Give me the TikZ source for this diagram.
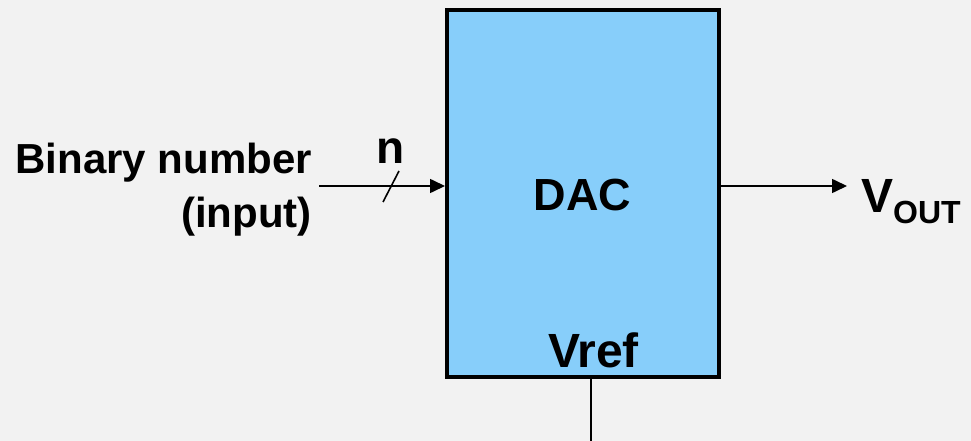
\documentclass[tikz,border=0pt]{standalone}
\usepackage{fontspec}
\setmainfont{Liberation Sans}
\usetikzlibrary{arrows.meta}

\definecolor{dacblue}{RGB}{135,206,250}
\definecolor{bggray}{RGB}{242,242,242}

\tikzset{
    block/.style={draw, fill=dacblue, line width=4pt, minimum width=272pt, minimum height=367pt, inner sep=0pt},
    wire/.style={line width=1.6pt},
    sig/.style={wire, -{Triangle[length=15pt, width=14pt]}},
    lbl/.style={inner sep=0pt, font=\bfseries\fontsize{42}{54}\selectfont}
}

\begin{document}
\begin{tikzpicture}[x=1pt, y=-1pt]
    \path[use as bounding box, fill=bggray] (0,0) rectangle (971,441);

    \node[block] at (583, 193.5) (dac) {};
    \node[lbl, font=\bfseries\fontsize{45}{45}\selectfont] at (582.5, 195) {DAC};
    \node[lbl, font=\bfseries\fontsize{48}{48}\selectfont, anchor=base] at (593.5, 367) (vref) {Vref};

    \node[lbl, align=right, anchor=north east] at (312, 143) (bin) {Binary number\\(input)};
    \node[lbl, font=\bfseries\fontsize{46}{46}\selectfont, anchor=base] at (391, 163) (n) {n};
    \node[lbl, anchor=base west] at (861, 212) (vout)
        {{\fontsize{48}{48}\selectfont V}\raisebox{-11pt}{\fontsize{32}{32}\selectfont OUT}};

    \coordinate (in)  at (319, 186);
    \coordinate (gnd) at (591, 441);

    \draw[sig] (in) -- (dac.west |- in);
    \draw[wire] (383, 202) -- (399, 171);
    \draw[sig, shorten >=14pt] (dac.east |- in) -- (vout.west |- in);
    \draw[wire] (dac.south -| gnd) -- (gnd);
\end{tikzpicture}
\end{document}
